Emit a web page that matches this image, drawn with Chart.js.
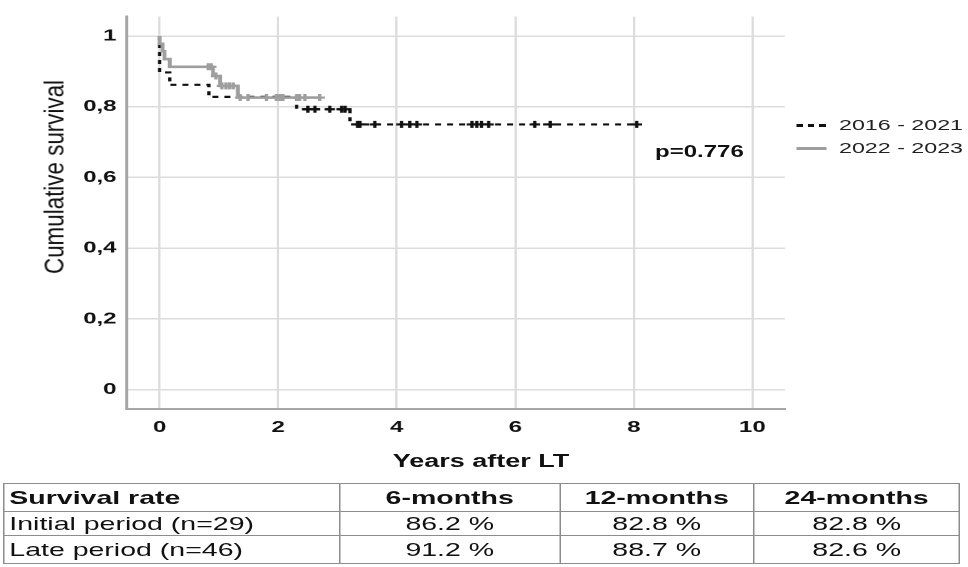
<!DOCTYPE html>
<html>
<head>
<meta charset="utf-8">
<script src="https://cdn.jsdelivr.net/npm/chart.js@4.4.1/dist/chart.umd.min.js"></script>
<style>
  html,body{margin:0;padding:0;background:#fff;}
  body{width:968px;height:567px;overflow:hidden;position:relative;font-family:"Liberation Sans",Arial,sans-serif;}
  #wrap{position:absolute;left:0;top:0;width:645.33px;height:567px;transform:scaleX(1.5);transform-origin:0 0;}
  #cbox{position:absolute;left:0;top:0;width:645.33px;height:470px;}
  .abs{position:absolute;white-space:nowrap;}
  #ytitle{left:35.5px;top:177px;font-size:18.5px;color:#111;transform:translate(-50%,-50%) rotate(-90deg) scaleX(1.21);}
  #xtitle{left:320.7px;top:461px;font-size:18px;font-weight:bold;color:#111;transform:translate(-50%,-50%);}
  #pval{left:436.7px;top:152px;font-size:16px;font-weight:bold;color:#111;transform:translateY(-50%);}
  .leg{left:531.3px;font-size:15.5px;color:#222;transform:translateY(-50%);display:flex;align-items:center;}
  .leg .sw{width:20px;height:3px;margin-right:8px;}
  table{position:absolute;left:2.2px;top:483.3px;border-collapse:collapse;font-size:19px;color:#111;}
  td{border:1px solid #8c8c8c;padding:0 0 0 3px;line-height:1;}
  td.c{text-align:center;padding:0;}
  tr.h td{font-weight:bold;}
</style>
</head>
<body>
<div id="wrap">
  <div id="cbox"><canvas id="c"></canvas></div>
  <div id="ytitle" class="abs">Cumulative survival</div>
  <div id="xtitle" class="abs">Years after LT</div>
  <div id="pval" class="abs">p=0.776</div>
  <div class="abs leg" style="top:125px"><span class="sw" style="background:repeating-linear-gradient(to right,#111 0,#111 4.3px,transparent 4.3px,transparent 7.6px);"></span><span>2016 - 2021</span></div>
  <div class="abs leg" style="top:148px"><span class="sw" style="background:#9e9e9e;"></span><span>2022 - 2023</span></div>
  <table id="tbl"></table>
</div>
<script>
// ---- data ----
const seriesNames = ["2016 - 2021", "2022 - 2023"];
// 2016-2021 (initial period) Kaplan-Meier steps
const blackTimes = [0, 0, 0, 0, 0.17, 0.83, 2.31, 3.21, 8.05];
const blackSurv  = [1, 0.966, 0.931, 0.897, 0.862, 0.828, 0.793, 0.750, 0.750];
const blackCensorTimes = [2.50, 2.62, 2.87, 3.07, 3.13, 3.34, 3.38, 3.63, 4.08, 4.22, 4.34, 5.27, 5.35, 5.43, 5.55, 6.33, 6.59, 8.05];
const blackCensorSurv  = [0.793, 0.793, 0.793, 0.793, 0.793, 0.750, 0.750, 0.750, 0.750, 0.750, 0.750, 0.750, 0.750, 0.750, 0.750, 0.750, 0.750, 0.750];
// 2022-2023 (late period) Kaplan-Meier steps
const grayTimes = [0, 0, 0.05, 0.08, 0.17, 0.90, 1.02, 1.32, 2.70];
const graySurv  = [1, 0.978, 0.957, 0.935, 0.913, 0.887, 0.859, 0.826, 0.826];
const grayCensorTimes = [0.82, 0.87, 0.95, 1.05, 1.12, 1.18, 1.24, 1.36, 1.49, 1.80, 1.97, 2.03, 2.08, 2.31, 2.36, 2.45, 2.70];
const grayCensorSurv  = [0.913, 0.913, 0.887, 0.859, 0.859, 0.859, 0.859, 0.826, 0.826, 0.826, 0.826, 0.826, 0.826, 0.826, 0.826, 0.826, 0.826];
// axes
const xTicks = [0, 2, 4, 6, 8, 10];
const xTickLabels = ["0", "2", "4", "6", "8", "10"];
const yTicks = [0, 0.2, 0.4, 0.6, 0.8, 1];
const yTickLabels = ["0", "0,2", "0,4", "0,6", "0,8", "1"];
// table
const tableHeader = ["Survival rate", "6-months", "12-months", "24-months"];
const tableRows = [
  ["Initial period (n=29)", "86.2 %", "82.8 %", "82.8 %"],
  ["Late period (n=46)", "91.2 %", "88.7 %", "82.6 %"]
];

// ---- table ----
const colW = [223.8, 146.7, 129.3, 137.3];
const rowH = [28, 24, 28];
const tbl = document.getElementById('tbl');
[tableHeader, ...tableRows].forEach((row, ri) => {
  const tr = document.createElement('tr');
  if (ri === 0) tr.className = 'h';
  row.forEach((txt, ci) => {
    const td = document.createElement('td');
    td.textContent = txt;
    td.style.width = colW[ci] + 'px';
    td.style.height = rowH[ri] + 'px';
    td.style.boxSizing = 'border-box';
    if (ci > 0) td.className = 'c';
    tr.appendChild(td);
  });
  tbl.appendChild(tr);
});

// ---- chart ----
const pts = (xs, ys) => xs.map((x, i) => ({x: x, y: ys[i]}));
const FONT = "'Liberation Sans', Arial, sans-serif";
new Chart(document.getElementById('c'), {
  type: 'line',
  data: {
    datasets: [
      {label: seriesNames[1], data: pts(grayTimes, graySurv), stepped: true, borderColor: '#9e9e9e', borderWidth: 2.6, pointRadius: 0, fill: false, order: 1},
      {type: 'scatter', label: seriesNames[1] + ' censored', data: pts(grayCensorTimes, grayCensorSurv), pointStyle: 'cross', pointRadius: 3.5, borderColor: '#9e9e9e', pointBorderWidth: 2.2, showLine: false, order: 0},
      {label: seriesNames[0], data: pts(blackTimes, blackSurv), stepped: true, borderColor: '#111', borderWidth: 2.2, borderDash: [4, 4], pointRadius: 0, fill: false, order: 3},
      {type: 'scatter', label: seriesNames[0] + ' censored', data: pts(blackCensorTimes, blackCensorSurv), pointStyle: 'cross', pointRadius: 3.5, borderColor: '#111', pointBorderWidth: 2.2, showLine: false, order: 2}
    ]
  },
  options: {
    responsive: true,
    maintainAspectRatio: false,
    devicePixelRatio: 2,
    animation: false,
    layout: {padding: {top: 2, right: 122, left: 0, bottom: 0}},
    plugins: {legend: {display: false}, tooltip: {enabled: false}},
    scales: {
      x: {
        type: 'linear', min: -0.55, max: 10.55,
        afterBuildTicks: s => { s.ticks = xTicks.map(v => ({value: v})); },
        afterFit: s => { s.height = 61; },
        grid: {color: '#dcdcdc', lineWidth: 1.5, drawTicks: false},
        border: {color: '#a6a6a6', width: 2},
        ticks: {padding: 9, color: '#111', font: {family: FONT, size: 16, weight: 'bold'}, callback: (v, i) => xTickLabels[i]}
      },
      y: {
        type: 'linear', min: -0.055, max: 1.055,
        afterBuildTicks: s => { s.ticks = yTicks.map(v => ({value: v})); },
        afterFit: s => { s.width = 84.7; },
        grid: {color: '#dcdcdc', lineWidth: 1.5, drawTicks: false},
        border: {color: '#a6a6a6', width: 2},
        ticks: {padding: 7, color: '#111', font: {family: FONT, size: 16, weight: 'bold'}, callback: (v, i) => yTickLabels[i]}
      }
    }
  }
});
</script>
</body>
</html>
